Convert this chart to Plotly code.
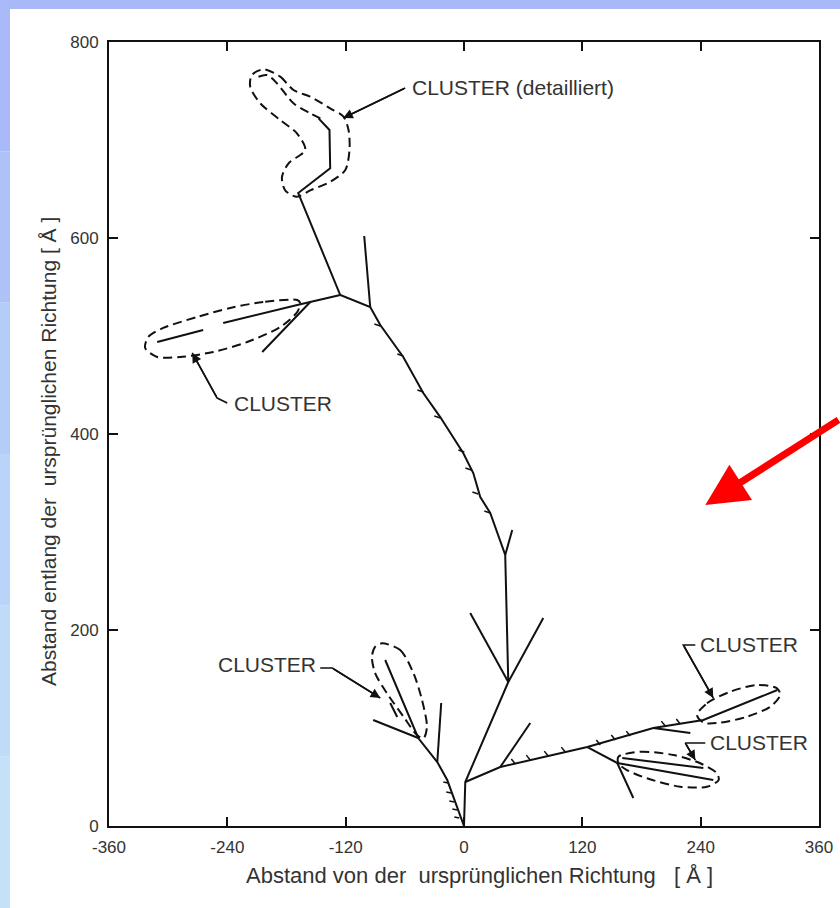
import plotly.graph_objects as go

# ---------------- data (Å) ----------------
# lower-left trunk from origin
ll_trunk_x = [0, -17.0, -27.1, -46.4, -79.9]
ll_trunk_y = [0, 46.9, 65.3, 89.8, 169.4]
ll_side1_x = [-46.4, -92.1]
ll_side1_y = [89.8, 108.2]
ll_side2_x = [-27.1, -23.1]
ll_side2_y = [65.3, 125.5]
ll_side3_x = [-67.7, -74.8]
ll_side3_y = [111.2, 125.5]

# right trunk
rt_trunk_x = [0, 1.3, 44.9, 80.4]
rt_trunk_y = [0, 44.9, 146.9, 212.2]
rt_side_x = [44.9, 6.3]
rt_side_y = [146.9, 217.3]

# main (upper) trunk
main_x = [44.9, 41.8, 26.6, 16.5, 9.4, -0.8, -24.1, -41.3, -61.6, -84.9, -95.1,
          -125.5, -168.1, -135.7, -136.4, -147.5]
main_y = [146.9, 276.5, 319.4, 335.7, 360.2, 380.6, 417.3, 441.8, 478.6, 511.2, 529.6,
          541.8, 645.9, 671.1, 710.2, 722.1]
v_branch_x = [41.8, 48.9]
v_branch_y = [276.5, 302.0]
up_branch_x = [-95.1, -101.2]
up_branch_y = [529.6, 602.0]
left_branch_x = [-125.5, -155.9, -169.1, -244.2, None, -264.5, -311.1]
left_branch_y = [541.8, 534.7, 531.6, 513.3, None, 506.1, 493.9]
left_down_x = [-155.9, -204.6]
left_down_y = [534.7, 483.7]

# right branch
rb_x = [1.3, 36.8, 125.1, 192.0, 242.7, 317.8]
rb_y = [44.9, 60.2, 80.6, 100.0, 108.2, 138.8]
rb_side1_x = [36.8, 67.2]
rb_side1_y = [60.2, 105.1]
rb_side2_x = [192.0, 229.5]
rb_side2_y = [100.0, 94.9]
rb_lower_x = [125.1, 155.4, 252.8]
rb_lower_y = [80.6, 64.3, 46.9]
rb_lower2_x = [160.5, 242.7]
rb_lower2_y = [69.4, 59.2]
rb_down_x = [155.4, 171.7]
rb_down_y = [64.3, 28.6]

# small barbs along the tracks
barb_x = [-84.9, -90.9, None, -61.6, -67.6, None, -41.3, -47.3, None, -24.1, -30.1, None,
          0.3, -5.7, None, 7.4, 1.4, None, 14.5, 8.5, None, 26.6, 20.6, None,
          -16.0, -21.0, None, -13.0, -18.0, None, -9.9, -14.9, None, -6.8, -11.8, None,
          -4.8, -9.8, None,
          52.0, 48.0, None, 67.2, 63.2, None, 85.4, 81.4, None, 102.7, 98.7, None,
          138.2, 134.2, None, 153.4, 149.4, None, 168.6, 164.6, None, 204.1, 200.1, None,
          219.3, 215.3]
barb_y = [510.2, 512.2, None, 479.6, 481.6, None, 442.9, 444.9, None, 416.3, 418.3, None,
          381.6, 383.6, None, 363.3, 365.3, None, 338.8, 340.8, None, 319.4, 321.4, None,
          43.9, 44.9, None, 33.7, 34.7, None, 24.5, 25.5, None, 16.3, 17.3, None,
          8.2, 9.2, None,
          63.3, 68.3, None, 67.3, 72.3, None, 71.4, 76.4, None, 75.5, 80.5, None,
          82.7, 87.7, None, 87.8, 92.8, None, 91.8, 96.8, None, 102.0, 107.0, None,
          104.1, 109.1]

# dashed cluster outlines
cl_top_x = [-203.3, -186.4, -172.9, -156.0, -135.7, -122.2, -117.1, -116.1, -120.4, -135.7,
            -156.0, -169.4, -181.3, -184.6, -177.9, -161.0, -169.4, -186.4, -206.6, -216.8,
            -215.1, -203.3]
cl_top_y = [772.1, 764.6, 751.0, 744.2, 732.3, 723.8, 710.2, 689.8, 669.4, 657.4,
            648.6, 642.1, 648.6, 662.2, 676.2, 689.8, 706.8, 720.4, 737.4, 754.4,
            766.3, 772.1]
cl_top_inner_x = [-208.4, -199.8, -189.7, -172.9, -156.0, -142.4]
cl_top_inner_y = [764.6, 766.3, 757.9, 737.4, 727.2, 720.4]
cl_left_x = [-169.1, -203.6, -237.1, -270.5, -305.0, -320.2, -323.3, -311.1, -287.8,
             -254.3, -219.8, -186.3, -169.1, -166.1, -169.1]
cl_left_y = [536.7, 534.7, 528.6, 519.4, 508.2, 499.0, 487.8, 478.6, 478.6,
             483.7, 493.9, 509.2, 524.5, 533.7, 536.7]
cl_ll_x = [-83.2, -64.7, -51.2, -42.6, -37.6, -41.0, -47.7, -61.3, -78.1, -90.0, -93.4, -90.0, -83.2]
cl_ll_y = [186.4, 179.6, 155.8, 128.6, 101.3, 89.5, 92.9, 111.5, 135.4, 155.8, 172.8, 183.0, 186.4]
cl_ur_x = [236.3, 246.4, 270.0, 297.1, 317.4, 320.7, 310.6, 287.0, 259.9, 243.0, 236.3]
cl_ur_y = [113.3, 125.2, 137.0, 143.9, 140.5, 133.7, 121.7, 111.5, 105.4, 105.4, 113.3]
cl_lr_x = [156.7, 178.8, 212.5, 239.6, 256.5, 258.2, 246.4, 219.3, 185.5, 165.2, 156.7, 156.7]
cl_lr_y = [70.7, 75.8, 72.4, 64.0, 53.8, 46.9, 40.1, 40.1, 48.7, 57.1, 63.9, 70.7]

# labels and leader lines
labels = ["CLUSTER (detailliert)", "CLUSTER", "CLUSTER", "CLUSTER", "CLUSTER"]
label_x = [-54.5, -235.0, -147.6, 236.8, 247.9]
label_y = [753.1, 431.6, 164.3, 184.7, 85.7]
label_anchor = ["left", "left", "right", "left", "left"]
leader_x = [[-59.6, -122.5], [-240.1, -250.3, -275.6], [-145.8, -133.6, -84.9],
            [234.6, 222.4, 252.8], [244.7, 224.4, 234.6]]
leader_y = [[753.1, 722.4], [431.6, 436.7, 482.7], [161.2, 161.2, 130.6],
            [184.7, 184.7, 130.6], [84.7, 84.7, 67.3]]

x_ticks = [-360, -240, -120, 0, 120, 240, 360]
y_ticks = [0, 200, 400, 600, 800]

FONT = "Liberation Sans, Arial"
TXT = "#333333"

# ---------------- figure ----------------
fig = go.Figure()

branches = [
    (ll_trunk_x, ll_trunk_y), (ll_side1_x, ll_side1_y), (ll_side2_x, ll_side2_y),
    (ll_side3_x, ll_side3_y), (rt_trunk_x, rt_trunk_y), (rt_side_x, rt_side_y),
    (main_x, main_y), (v_branch_x, v_branch_y), (up_branch_x, up_branch_y),
    (left_branch_x, left_branch_y), (left_down_x, left_down_y),
    (rb_x, rb_y), (rb_side1_x, rb_side1_y), (rb_side2_x, rb_side2_y),
    (rb_lower_x, rb_lower_y), (rb_lower2_x, rb_lower2_y), (rb_down_x, rb_down_y),
]
tx, ty = [], []
for bx, by in branches:
    tx += list(bx) + [None]
    ty += list(by) + [None]
fig.add_trace(go.Scatter(x=tx, y=ty, mode="lines",
                         line=dict(color="#111111", width=2), hoverinfo="skip"))
fig.add_trace(go.Scatter(x=barb_x, y=barb_y, mode="lines",
                         line=dict(color="#111111", width=1.5), hoverinfo="skip"))

for cx, cy in [(cl_top_x, cl_top_y), (cl_top_inner_x, cl_top_inner_y), (cl_left_x, cl_left_y),
               (cl_ll_x, cl_ll_y), (cl_ur_x, cl_ur_y), (cl_lr_x, cl_lr_y)]:
    fig.add_trace(go.Scatter(x=cx, y=cy, mode="lines",
                             line=dict(color="#111111", width=2, dash="9px,5px", shape="spline",
                                       smoothing=0.8),
                             hoverinfo="skip"))

for lx, ly in zip(leader_x, leader_y):
    fig.add_trace(go.Scatter(x=lx, y=ly, mode="lines",
                             line=dict(color="#111111", width=1.6), hoverinfo="skip"))
    fig.add_annotation(x=lx[-1], y=ly[-1], ax=lx[-2], ay=ly[-2], axref="x", ayref="y",
                       xref="x", yref="y", text="", showarrow=True, arrowhead=2,
                       arrowsize=1.2, arrowwidth=1.6, arrowcolor="#111111")

for t, x, y, a in zip(labels, label_x, label_y, label_anchor):
    fig.add_annotation(x=x, y=y, text=t, showarrow=False, xanchor=a, yanchor="middle",
                       font=dict(family=FONT, size=21, color=TXT))

# red arrow
fig.add_annotation(x=244.7, y=327.6, xref="x", yref="y", ax=140, ay=-86,
                   text="", showarrow=True, arrowhead=2, arrowsize=1.2, arrowwidth=7,
                   arrowcolor="#ff0000")

# axis titles
fig.add_annotation(x=(479 - 109) / 710, y=(826 - 875) / 784, xref="paper", yref="paper",
                   text="Abstand von der\u00a0 ursprünglichen Richtung\u00a0\u00a0 [ Å ]",
                   showarrow=False, xanchor="center", yanchor="middle",
                   font=dict(family=FONT, size=22, color=TXT))
fig.add_annotation(x=(48 - 109) / 710, y=(826 - 452) / 784, xref="paper", yref="paper",
                   text="Abstand entlang der\u00a0 ursprünglichen Richtung [ Å ]",
                   textangle=-90, showarrow=False, xanchor="center", yanchor="middle",
                   font=dict(family=FONT, size=21, color=TXT))

# blue frame bands (scan border)
def px2paper_x(px):
    return (px - 109) / 710

def px2paper_y(py):
    return (826 - py) / 784

fig.add_shape(type="rect", xref="paper", yref="paper", x0=px2paper_x(0), x1=px2paper_x(840),
              y0=px2paper_y(9), y1=px2paper_y(0), fillcolor="#a9b9f8", line_width=0, layer="below")
band_cols = ["#aabaf8", "#afc2f8", "#b4ccf8", "#b9d4f8", "#bedbf8", "#c3e1f8"]
n = len(band_cols)
for i, c in enumerate(band_cols):
    fig.add_shape(type="rect", xref="paper", yref="paper", x0=px2paper_x(0), x1=px2paper_x(10),
                  y0=px2paper_y(908 * (i + 1) / n), y1=px2paper_y(908 * i / n),
                  fillcolor=c, line_width=0, layer="below")

axis_common = dict(showgrid=False, zeroline=False, showline=True, linecolor="#111111",
                   linewidth=2, mirror="ticks", ticks="inside", ticklen=9, tickwidth=2,
                   tickcolor="#111111",
                   tickfont=dict(family=FONT, size=17, color=TXT))
fig.update_xaxes(range=[-360, 360], tickvals=x_ticks,
                 ticktext=[str(v) for v in x_ticks], ticklabelstandoff=5, **axis_common)
fig.update_yaxes(range=[0, 800], tickvals=y_ticks,
                 ticktext=[str(v) for v in y_ticks], ticklabelstandoff=5, **axis_common)

fig.update_layout(width=840, height=908, showlegend=False,
                  paper_bgcolor="white", plot_bgcolor="white",
                  margin=dict(l=109, r=21, t=42, b=82, autoexpand=False))

fig.write_html("out.html", config={"displayModeBar": False},
               post_script="document.body.style.margin='0';document.body.style.overflow='hidden';")
